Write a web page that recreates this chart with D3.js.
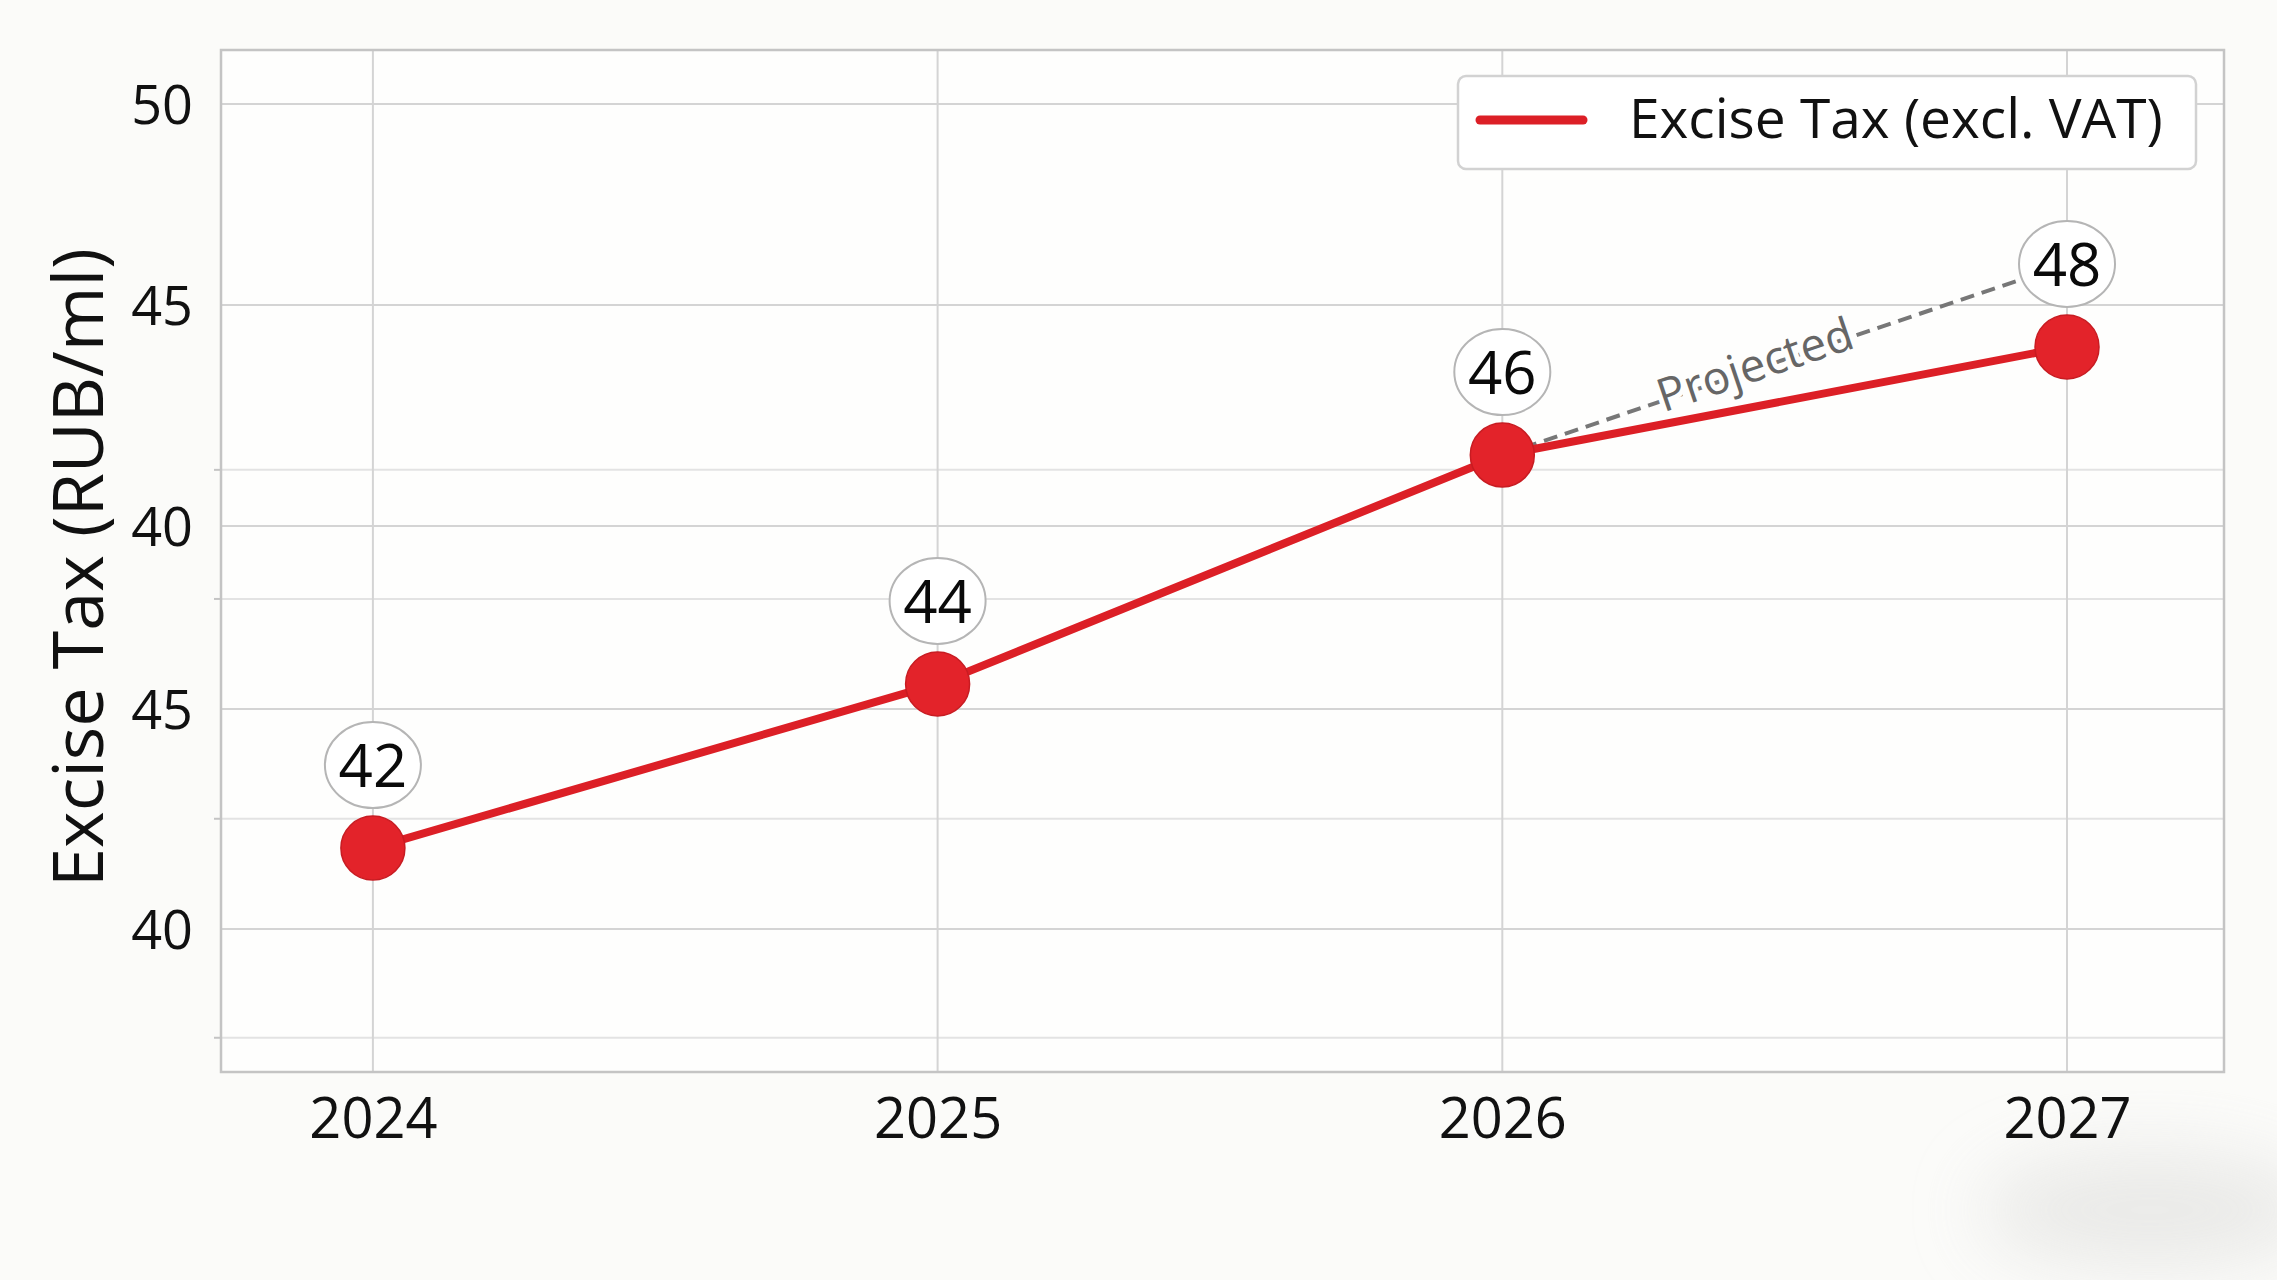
<!DOCTYPE html>
<html>
<head>
<meta charset="utf-8">
<script src="https://cdn.jsdelivr.net/npm/d3@7"></script>
<style>
  html, body { margin: 0; padding: 0; background: #fbfbf9; }
  svg { display: block; font-family: "Open Sans", "Noto Sans", sans-serif; }
</style>
</head>
<body>
<svg id="chart" width="2277" height="1280"></svg>
<script>
// ---- data ----
const years = [2024, 2025, 2026, 2027];
const valueLabels = [42, 44, 46, 48];                  // numbers printed in the bubbles
const plotPositions = [31.96, 35.94, 41.49, 44.11];     // where the points sit on the (oddly labelled) axis
const yTickPositions = [50, 45.13, 39.77, 35.33, 30.0]; // positions of the labelled gridlines
const yTickLabels = ["50", "45", "40", "45", "40"];     // labels as printed
const yMinorPositions = [41.13, 38.0, 32.67, 27.36];    // faint un-labelled gridlines
const yDomain = [26.53, 51.31];
const xDomain = [2023.731, 2027.278];
const seriesName = "Excise Tax (excl. VAT)";
const yTitle = "Excise Tax (RUB/ml)";
const projectedLabel = "Projected";

// ---- layout ----
const plot = { left: 221, top: 50, right: 2224, bottom: 1072 };
const svg = d3.select("#chart");
const x = d3.scaleLinear().domain(xDomain).range([plot.left, plot.right]);
const y = d3.scaleLinear().domain(yDomain).range([plot.bottom, plot.top]);

const RED_LINE = "#dc1f26", RED_PT = "#e3232a", TXT = "#111111";

// soft smudge bottom-right (background artefact)
const defs = svg.append("defs");
defs.append("filter").attr("id", "blur").attr("x", "-50%").attr("y", "-50%").attr("width", "200%").attr("height", "200%")
  .append("feGaussianBlur").attr("stdDeviation", 35);
svg.append("ellipse").attr("cx", 2150).attr("cy", 1210).attr("rx", 170).attr("ry", 60)
  .attr("fill", "#e6e6e4").attr("opacity", 0.8).attr("filter", "url(#blur)");

// plot background
svg.append("rect").attr("x", plot.left).attr("y", plot.top)
  .attr("width", plot.right - plot.left).attr("height", plot.bottom - plot.top)
  .attr("fill", "#fefefd");

// grid
const grid = svg.append("g");
grid.selectAll(".minor").data(yMinorPositions).join("line")
  .attr("x1", plot.left).attr("x2", plot.right)
  .attr("y1", d => y(d)).attr("y2", d => y(d))
  .attr("stroke", "#e3e3e3").attr("stroke-width", 2);
grid.selectAll(".minortick").data(yMinorPositions).join("line")
  .attr("x1", plot.left - 7).attr("x2", plot.left)
  .attr("y1", d => y(d)).attr("y2", d => y(d))
  .attr("stroke", "#c4c4c4").attr("stroke-width", 2);
grid.selectAll(".major").data(yTickPositions).join("line")
  .attr("x1", plot.left).attr("x2", plot.right)
  .attr("y1", d => y(d)).attr("y2", d => y(d))
  .attr("stroke", "#d4d4d4").attr("stroke-width", 2);
grid.selectAll(".vert").data(years).join("line")
  .attr("x1", d => x(d)).attr("x2", d => x(d))
  .attr("y1", plot.top).attr("y2", plot.bottom)
  .attr("stroke", "#d4d4d4").attr("stroke-width", 2);

// frame
svg.append("rect").attr("x", plot.left).attr("y", plot.top)
  .attr("width", plot.right - plot.left).attr("height", plot.bottom - plot.top)
  .attr("fill", "none").attr("stroke", "#c4c4c4").attr("stroke-width", 2.5);

// y axis
const yAxis = d3.axisLeft(y).tickValues(yTickPositions)
  .tickFormat((d, i) => yTickLabels[i]).tickSize(0).tickPadding(28);
const gy = svg.append("g").attr("transform", `translate(${plot.left},0)`).call(yAxis);
gy.select(".domain").remove();
gy.selectAll("text").attr("font-size", 54).attr("fill", TXT)
  .attr("font-family", "'Open Sans', sans-serif").attr("dy", "0.36em");

// x axis
const xAxis = d3.axisBottom(x).tickValues(years).tickFormat(d3.format("d")).tickSize(0).tickPadding(0);
const gx = svg.append("g").attr("transform", `translate(0,${plot.bottom})`).call(xAxis);
gx.select(".domain").remove();
gx.selectAll("text").attr("font-size", 56).attr("fill", TXT)
  .attr("font-family", "'Open Sans', sans-serif").attr("y", 66).attr("dy", 0);

// y title
svg.append("text")
  .attr("transform", `translate(103,${(245 + 890) / 2}) rotate(-90)`)
  .attr("text-anchor", "middle").attr("font-size", 70).attr("fill", TXT)
  .text(yTitle);

// projected dashed connector (from 2026 point to 2027 label bubble)
const LABEL_DY = 83;
const p26 = [x(years[2]), y(plotPositions[2])];
const l27 = [x(years[3]), y(plotPositions[3]) - LABEL_DY];
svg.append("line")
  .attr("x1", p26[0]).attr("y1", p26[1]).attr("x2", l27[0]).attr("y2", l27[1])
  .attr("stroke", "#777").attr("stroke-width", 4).attr("stroke-dasharray", "14 8");
const ang = Math.atan2(l27[1] - p26[1], l27[0] - p26[0]) * 180 / Math.PI;
const tFrac = 0.45;
const tx = p26[0] + (l27[0] - p26[0]) * tFrac, ty = p26[1] + (l27[1] - p26[1]) * tFrac;
svg.append("text")
  .attr("transform", `translate(${tx},${ty}) rotate(${ang})`)
  .attr("text-anchor", "middle").attr("dy", "0.25em")
  .attr("font-size", 46).attr("fill", "#666")
  .attr("stroke", "#fefefd").attr("stroke-width", 10).attr("paint-order", "stroke")
  .text(projectedLabel);

// main line
const pts = years.map((yr, i) => ({ year: yr, pos: plotPositions[i], label: valueLabels[i] }));
svg.append("path").datum(pts)
  .attr("d", d3.line().x(d => x(d.year)).y(d => y(d.pos)))
  .attr("fill", "none").attr("stroke", RED_LINE).attr("stroke-width", 8)
  .attr("stroke-linejoin", "round");

// points
svg.selectAll(".pt").data(pts).join("circle")
  .attr("cx", d => x(d.year)).attr("cy", d => y(d.pos)).attr("r", 32)
  .attr("fill", RED_PT).attr("stroke", "#c81c22").attr("stroke-width", 1.5);

// value bubbles
const bub = svg.selectAll(".bub").data(pts).join("g")
  .attr("transform", d => `translate(${x(d.year)},${y(d.pos) - LABEL_DY})`);
bub.append("ellipse").attr("rx", 48).attr("ry", 43)
  .attr("fill", "#ffffff").attr("stroke", "#b5b5b5").attr("stroke-width", 2);
bub.append("text").attr("text-anchor", "middle").attr("dy", "0.36em")
  .attr("font-size", 60).attr("fill", "#0a0a0a").text(d => d.label);

// legend
const lg = svg.append("g");
lg.append("rect").attr("x", 1458).attr("y", 76).attr("width", 738).attr("height", 93).attr("rx", 8)
  .attr("fill", "#ffffff").attr("stroke", "#d2d2d2").attr("stroke-width", 2.5);
lg.append("line").attr("x1", 1480).attr("x2", 1583).attr("y1", 120).attr("y2", 120)
  .attr("stroke", RED_LINE).attr("stroke-width", 9).attr("stroke-linecap", "round");
lg.append("text").attr("x", 1629).attr("y", 138).attr("font-size", 55).attr("fill", TXT)
  .text(seriesName);
</script>
</body>
</html>
